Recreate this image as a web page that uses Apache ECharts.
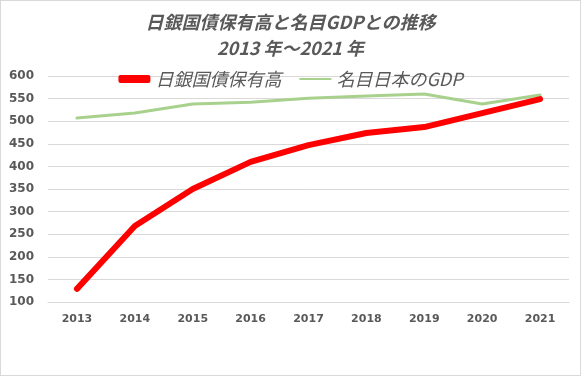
<!DOCTYPE html>
<html>
<head>
<meta charset="utf-8">
<script src="https://cdn.jsdelivr.net/npm/echarts@6/dist/echarts.min.js"></script>
<style>
html,body{margin:0;padding:0;background:#fff;}
#main{width:579px;height:374px;border:1px solid #d9d9d9;}
</style>
</head>
<body>
<div id="main"></div>
<script>
// 年份
var years=['2013','2014','2015','2016','2017','2018','2019','2020','2021']
// 日銀国債保有高 (兆円)
var bojHoldings=[129,268,350,410,447,474,487,518,549]
// 名目GDP (兆円)
var nominalGdp=[507,518,538,542,551,556,560,538,558]

var fontJp='"Noto Sans CJK JP", "Noto Sans", sans-serif'

var myChart=echarts.init(document.getElementById('main'))
var option={
    animation:false,
    title:{
        text:'日銀国債保有高と名目GDPとの推移\n2013 年～2021 年',
        left:'center',
        top:3,
        textStyle:{
            color:'#595959',
            fontFamily:fontJp,
            fontStyle:'italic',
            fontWeight:'bold',
            fontSize:18,
            lineHeight:26
        }
    },
    legend:{
        top:64,
        left:'center',
        itemGap:18,
        itemWidth:32,
        itemHeight:8,
        textStyle:{
            color:'#595959',
            fontFamily:fontJp,
            fontStyle:'italic',
            fontSize:18
        },
        data:[
            {name:'日銀国債保有高',icon:'roundRect',itemStyle:{color:'#ff0000'}},
            {name:'名目日本のGDP',icon:'path://M0,3 L32,3 L32,5 L0,5 Z',itemStyle:{color:'#a9d18e'}}
        ]
    },
    grid:{
        left:47,
        right:11,
        top:75,
        bottom:73
    },
    xAxis:{
        type:'category',
        data:years,
        boundaryGap:true,
        axisLine:{lineStyle:{color:'#d9d9d9'}},
        axisTick:{show:false},
        axisLabel:{
            color:'#595959',
            fontWeight:'bold',
            fontSize:11,
            margin:12,
            fontFamily:'"DejaVu Sans", sans-serif'
        }
    },
    yAxis:{
        type:'value',
        min:100,
        max:600,
        interval:50,
        axisLine:{show:false},
        axisTick:{show:false},
        splitLine:{lineStyle:{color:'#d9d9d9'}},
        axisLabel:{
            color:'#595959',
            fontWeight:'bold',
            fontSize:12,
            margin:14,
            fontFamily:'"DejaVu Sans", sans-serif'
        }
    },
    series:[
        {
            name:'日銀国債保有高',
            type:'line',
            data:bojHoldings,
            symbol:'none',
            z:3,
            lineStyle:{color:'#ff0000',width:6,cap:'round',join:'round'},
            itemStyle:{color:'#ff0000'}
        },
        {
            name:'名目日本のGDP',
            type:'line',
            data:nominalGdp,
            symbol:'none',
            z:2,
            lineStyle:{color:'#a9d18e',width:3,cap:'round',join:'round'},
            itemStyle:{color:'#a9d18e'}
        }
    ]
}
myChart.setOption(option)
</script>
</body>
</html>
